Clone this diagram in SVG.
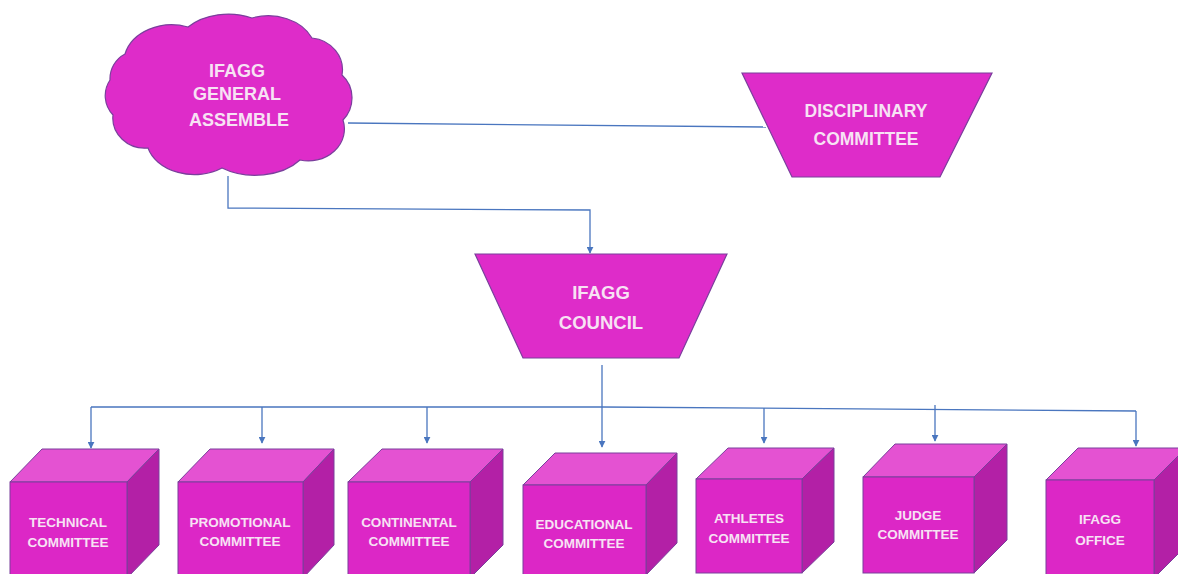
<svg xmlns="http://www.w3.org/2000/svg" width="1178" height="574" viewBox="0 0 1178 574">
<style>
.t{font-family:"Liberation Sans",Arial,sans-serif;font-weight:bold;fill:#f7e2f4;text-anchor:middle}
.c{font-size:13.5px}
.front{fill:#dc27c6;stroke:#7a3f9c;stroke-width:1}
.top{fill:#e452d2;stroke:#7a3f9c;stroke-width:1}
.side{fill:#b320a6;stroke:#7a3f9c;stroke-width:1}
.shape{fill:#de2cc9;stroke:#7a3f9c;stroke-width:1.2}
.ln{fill:none;stroke:#4a76bf;stroke-width:1.3}
</style>
<defs>
<marker id="ah" viewBox="0 0 10 10" refX="9" refY="5" markerWidth="7" markerHeight="7" markerUnits="userSpaceOnUse" orient="auto">
<path d="M0,0 L10,5 L0,10 Z" fill="#4a76bf"/>
</marker>
</defs>
<rect width="1178" height="574" fill="#ffffff"/>

<g id="connectors">
<line class="ln" x1="348" y1="123" x2="766" y2="127"/>
<polyline class="ln" points="228,176 228,208 590,210 590,253" marker-end="url(#ah)"/>
<line class="ln" x1="602" y1="365" x2="602" y2="407"/>
<polyline class="ln" points="91,407 602,407 1136,411"/>
<line class="ln" x1="91" y1="407" x2="91" y2="448" marker-end="url(#ah)"/>
<line class="ln" x1="262" y1="407" x2="262" y2="443" marker-end="url(#ah)"/>
<line class="ln" x1="427" y1="407" x2="427" y2="443" marker-end="url(#ah)"/>
<line class="ln" x1="602" y1="407" x2="602" y2="447" marker-end="url(#ah)"/>
<line class="ln" x1="764" y1="408" x2="764" y2="443" marker-end="url(#ah)"/>
<line class="ln" x1="935" y1="405" x2="935" y2="441" marker-end="url(#ah)"/>
<line class="ln" x1="1136" y1="411" x2="1136" y2="446" marker-end="url(#ah)"/>
</g>

<g id="general-assemble">
<path class="shape" d="M125,54 A48 38 0 0 1 188,27 A55 40 0 0 1 252,18 A48 38 0 0 1 312,38 A34 32 0 0 1 342,75 A28 30 0 0 1 343,120 A36 32 0 0 1 300,160 A55 36 0 0 1 222,168 A48 36 0 0 1 148,148 A32 30 0 0 1 113,115 A28 28 0 0 1 110,80 A28 28 0 0 1 125,54 Z"/>
<text class="t" font-size="18" x="237" y="77">IFAGG</text>
<text class="t" font-size="18" x="237" y="100">GENERAL</text>
<text class="t" font-size="18" x="239" y="126">ASSEMBLE</text>
</g>

<g id="disciplinary">
<polygon class="shape" points="742,73 992,73 940,177 792,177"/>
<text class="t" font-size="17.5" x="866" y="117">DISCIPLINARY</text>
<text class="t" font-size="17.5" x="866" y="145">COMMITTEE</text>
</g>

<g id="council">
<polygon class="shape" points="475,254 727,254 679,358 523,358"/>
<text class="t" font-size="18.5" x="601" y="299">IFAGG</text>
<text class="t" font-size="18.5" x="601" y="329">COUNCIL</text>
</g>

<g id="technical">
<polygon class="top" points="10,482 42,449 159,449 127,482"/>
<polygon class="side" points="127,482 159,449 159,545 127,578"/>
<rect class="front" x="10" y="482" width="117" height="96"/>
<text class="t c" x="68" y="527">TECHNICAL</text>
<text class="t c" x="68" y="547">COMMITTEE</text>
</g>

<g id="promotional">
<polygon class="top" points="178,482 210,449 334,449 303,482"/>
<polygon class="side" points="303,482 334,449 334,545 303,578"/>
<rect class="front" x="178" y="482" width="125" height="96"/>
<text class="t c" x="240" y="527">PROMOTIONAL</text>
<text class="t c" x="240" y="546">COMMITTEE</text>
</g>

<g id="continental">
<polygon class="top" points="348,482 382,449 503,449 470,482"/>
<polygon class="side" points="470,482 503,449 503,545 470,578"/>
<rect class="front" x="348" y="482" width="122" height="96"/>
<text class="t c" x="409" y="527">CONTINENTAL</text>
<text class="t c" x="409" y="546">COMMITTEE</text>
</g>

<g id="educational">
<polygon class="top" points="523,485 555,453 677,453 646,485"/>
<polygon class="side" points="646,485 677,453 677,543 646,575"/>
<rect class="front" x="523" y="485" width="123" height="90"/>
<text class="t c" x="584" y="529">EDUCATIONAL</text>
<text class="t c" x="584" y="548">COMMITTEE</text>
</g>

<g id="athletes">
<polygon class="top" points="696,479 728,448 834,448 802,479"/>
<polygon class="side" points="802,479 834,448 834,542 802,573"/>
<rect class="front" x="696" y="479" width="106" height="94"/>
<text class="t c" x="749" y="523">ATHLETES</text>
<text class="t c" x="749" y="543">COMMITTEE</text>
</g>

<g id="judge">
<polygon class="top" points="863,477 895,444 1007,444 974,477"/>
<polygon class="side" points="974,477 1007,444 1007,540 974,573"/>
<rect class="front" x="863" y="477" width="111" height="96"/>
<text class="t c" x="918" y="520">JUDGE</text>
<text class="t c" x="918" y="539">COMMITTEE</text>
</g>

<g id="office">
<polygon class="top" points="1046,480 1078,448 1186,448 1154,480"/>
<polygon class="side" points="1154,480 1186,448 1186,546 1154,578"/>
<rect class="front" x="1046" y="480" width="108" height="98"/>
<text class="t c" x="1100" y="524">IFAGG</text>
<text class="t c" x="1100" y="545">OFFICE</text>
</g>
</svg>
